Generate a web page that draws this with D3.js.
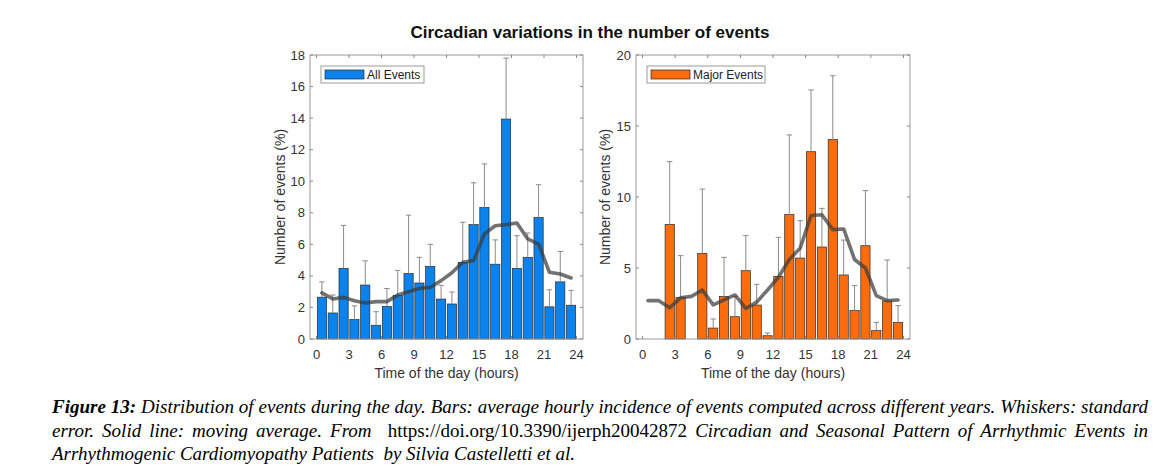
<!DOCTYPE html>
<html>
<head>
<meta charset="utf-8">
<script src="https://cdn.jsdelivr.net/npm/d3@7"></script>
<style>
  html, body { margin: 0; padding: 0; background: #fff; }
  #wrap { position: relative; width: 1172px; height: 474px; overflow: hidden; }
  svg { position: absolute; left: 0; top: 0; }
  #caption { position: absolute; left: 52px; top: 395px; width: 1096px;
    font-family: "Liberation Serif", "Times New Roman", serif; font-style: italic;
    font-size: 19px; line-height: 23.5px; color: #000; }
  #caption .j { text-align: justify; text-align-last: justify; }
  #caption .up { font-style: normal; }
</style>
</head>
<body>
<div id="wrap">
<svg id="chart" width="1172" height="474"></svg>
<div id="caption">
  <div class="j"><b>Figure 13:</b> Distribution of events during the day. Bars: average hourly incidence of events computed across different years. Whiskers: standard</div>
  <div class="j">error. Solid line: moving average. From &nbsp;<span class="up">https://doi.org/10.3390/ijerph20042872</span> Circadian and Seasonal Pattern of Arrhythmic Events in</div>
  <div>Arrhythmogenic Cardiomyopathy Patients &nbsp;by Silvia Castelletti et al.</div>
</div>
</div>
<script>
// ---------------- DATA ----------------
const title = "Circadian variations in the number of events";
const hours = d3.range(24).map(h => h + 0.5);           // bar centres (hour slots)
const xTicks = [0, 3, 6, 9, 12, 15, 18, 21, 24];

const allLabel = "All Events";
const allValues = [2.65, 1.65, 4.48, 1.23, 3.42, 0.87, 2.07, 2.77, 4.15, 3.55, 4.60, 2.53,
                   2.22, 4.84, 7.25, 8.33, 4.74, 13.94, 4.48, 5.17, 7.70, 2.04, 3.62, 2.14];
const allErrTop = [3.62, 2.79, 7.20, 2.10, 4.95, 1.73, 3.20, 4.35, 7.85, 5.18, 6.00, 3.40,
                   2.98, 7.40, 9.90, 11.10, 6.28, 17.80, 6.55, 6.72, 9.78, 3.12, 5.55, 3.08];
const allMovAvg = [2.92, 2.54, 2.64, 2.43, 2.28, 2.37, 2.37, 2.79, 3.00, 3.21, 3.27, 3.70,
                   4.20, 4.86, 4.97, 6.66, 7.18, 7.25, 7.35, 6.34, 6.02, 4.23, 4.12, 3.87];
const allYTicks = [0, 2, 4, 6, 8, 10, 12, 14, 16, 18];

const majorLabel = "Major Events";
const majorValues = [0, 0, 8.07, 2.93, 0, 6.03, 0.77, 3.00, 1.57, 4.81, 2.39, 0.23,
                     4.41, 8.76, 5.70, 13.19, 6.48, 14.04, 4.51, 2.00, 6.57, 0.59, 2.68, 1.17];
const majorErrTop = [0, 0, 12.49, 5.87, 0, 10.56, 1.41, 5.75, 3.00, 7.28, 3.85, 0.42,
                     7.16, 14.37, 8.33, 17.54, 9.20, 18.54, 6.97, 3.76, 10.45, 1.17, 5.56, 2.35];
const majorMovAvg = [2.70, 2.70, 2.20, 2.90, 3.00, 3.45, 2.40, 2.75, 3.10, 2.15, 2.60, 3.45,
                     4.35, 5.60, 6.40, 8.70, 8.75, 7.70, 7.75, 5.60, 5.00, 3.05, 2.70, 2.75];
const majorYTicks = [0, 5, 10, 15, 20];

const xLabel = "Time of the day (hours)";
const yLabel = "Number of events (%)";

// ---------------- DRAW ----------------
const svg = d3.select("#chart");
const FONT = "'Liberation Sans', Arial, Helvetica, sans-serif";

svg.append("text").attr("x", 590).attr("y", 38).attr("text-anchor", "middle")
  .attr("font-family", FONT).attr("font-weight", "bold").attr("font-size", 17)
  .attr("fill", "#111").text(title);

function panel(cfg) {
  const g = svg.append("g");
  const x = d3.scaleLinear().domain([-0.6, 24.6]).range([cfg.left, cfg.right]);
  const y = d3.scaleLinear().domain([0, cfg.ymax]).range([339, 55]);
  const bw = x(0.85) - x(0);

  // bars
  g.selectAll("rect.bar").data(hours).join("rect").attr("class", "bar")
    .attr("x", (h) => x(h) - bw / 2).attr("width", bw)
    .attr("y", (h, i) => y(cfg.values[i]))
    .attr("height", (h, i) => y(0) - y(cfg.values[i]))
    .attr("fill", cfg.color).attr("stroke", "#2a2a2a").attr("stroke-width", 0.7);

  // whiskers (upper only)
  const cap = x(0.25) - x(0);
  const eb = g.selectAll("g.err").data(hours).join("g").attr("class", "err")
    .filter((h, i) => cfg.err[i] > cfg.values[i]);
  eb.append("line").attr("x1", h => x(h)).attr("x2", h => x(h))
    .attr("y1", (h) => y(cfg.values[hours.indexOf(h)]))
    .attr("y2", (h) => y(cfg.err[hours.indexOf(h)]))
    .attr("stroke", "#8a8a8a").attr("stroke-width", 1);
  eb.append("line").attr("x1", h => x(h) - cap).attr("x2", h => x(h) + cap)
    .attr("y1", (h) => y(cfg.err[hours.indexOf(h)]))
    .attr("y2", (h) => y(cfg.err[hours.indexOf(h)]))
    .attr("stroke", "#8a8a8a").attr("stroke-width", 1);

  // moving average
  const line = d3.line().x((d, i) => x(hours[i])).y(d => y(d));
  g.append("path").datum(cfg.ma).attr("d", line).attr("fill", "none")
    .attr("stroke", "#3c3c3c").attr("stroke-opacity", 0.72)
    .attr("stroke-width", 3.6).attr("stroke-linejoin", "round").attr("stroke-linecap", "round");

  // box
  g.append("rect").attr("x", cfg.left).attr("y", 55)
    .attr("width", cfg.right - cfg.left).attr("height", 284)
    .attr("fill", "none").attr("stroke", "#9a9a9a").attr("stroke-width", 1);

  // ticks (inward, all four sides)
  const tl = 3;
  xTicks.forEach(t => {
    g.append("line").attr("x1", x(t)).attr("x2", x(t)).attr("y1", 339).attr("y2", 339 - tl)
      .attr("stroke", "#8a8a8a");
    g.append("line").attr("x1", x(t)).attr("x2", x(t)).attr("y1", 55).attr("y2", 55 + tl)
      .attr("stroke", "#8a8a8a");
  });
  cfg.yTicks.forEach(t => {
    g.append("line").attr("x1", cfg.left).attr("x2", cfg.left + tl).attr("y1", y(t)).attr("y2", y(t))
      .attr("stroke", "#8a8a8a");
    g.append("line").attr("x1", cfg.right).attr("x2", cfg.right - tl).attr("y1", y(t)).attr("y2", y(t))
      .attr("stroke", "#8a8a8a");
  });

  // tick labels
  g.selectAll("text.xt").data(xTicks).join("text").attr("class", "xt")
    .attr("x", d => x(d)).attr("y", 359).attr("text-anchor", "middle")
    .attr("font-family", FONT).attr("font-size", 13).attr("fill", "#333").text(d => d);
  g.selectAll("text.yt").data(cfg.yTicks).join("text").attr("class", "yt")
    .attr("x", cfg.left - 5).attr("y", d => y(d) + 4.5).attr("text-anchor", "end")
    .attr("font-family", FONT).attr("font-size", 13).attr("fill", "#333").text(d => d);

  // axis labels
  g.append("text").attr("x", (cfg.left + cfg.right) / 2).attr("y", 378).attr("text-anchor", "middle")
    .attr("font-family", FONT).attr("font-size", 14).attr("fill", "#333").text(xLabel);
  g.append("text").attr("transform", `translate(${cfg.ylx},197) rotate(-90)`).attr("text-anchor", "middle")
    .attr("font-family", FONT).attr("font-size", 14).attr("fill", "#333").text(yLabel);

  // legend
  const lx = cfg.left + 11, ly = 66;
  g.append("rect").attr("x", lx).attr("y", ly).attr("width", cfg.legW).attr("height", 17)
    .attr("fill", "#fff").attr("stroke", "#9a9a9a");
  g.append("rect").attr("x", lx + 4).attr("y", ly + 4).attr("width", 39).attr("height", 9)
    .attr("fill", cfg.color).attr("stroke", "#2a2a2a").attr("stroke-width", 0.7);
  g.append("text").attr("x", lx + 46).attr("y", ly + 12.5)
    .attr("font-family", FONT).attr("font-size", 12).attr("fill", "#222").text(cfg.label);
}

panel({ left: 310, right: 583, ymax: 18, values: allValues, err: allErrTop, ma: allMovAvg,
        yTicks: allYTicks, color: "#0a83ee", label: allLabel, legW: 103, ylx: 285 });
panel({ left: 636, right: 910, ymax: 20, values: majorValues, err: majorErrTop, ma: majorMovAvg,
        yTicks: majorYTicks, color: "#fb6c0c", label: majorLabel, legW: 118, ylx: 610 });
</script>
</body>
</html>
